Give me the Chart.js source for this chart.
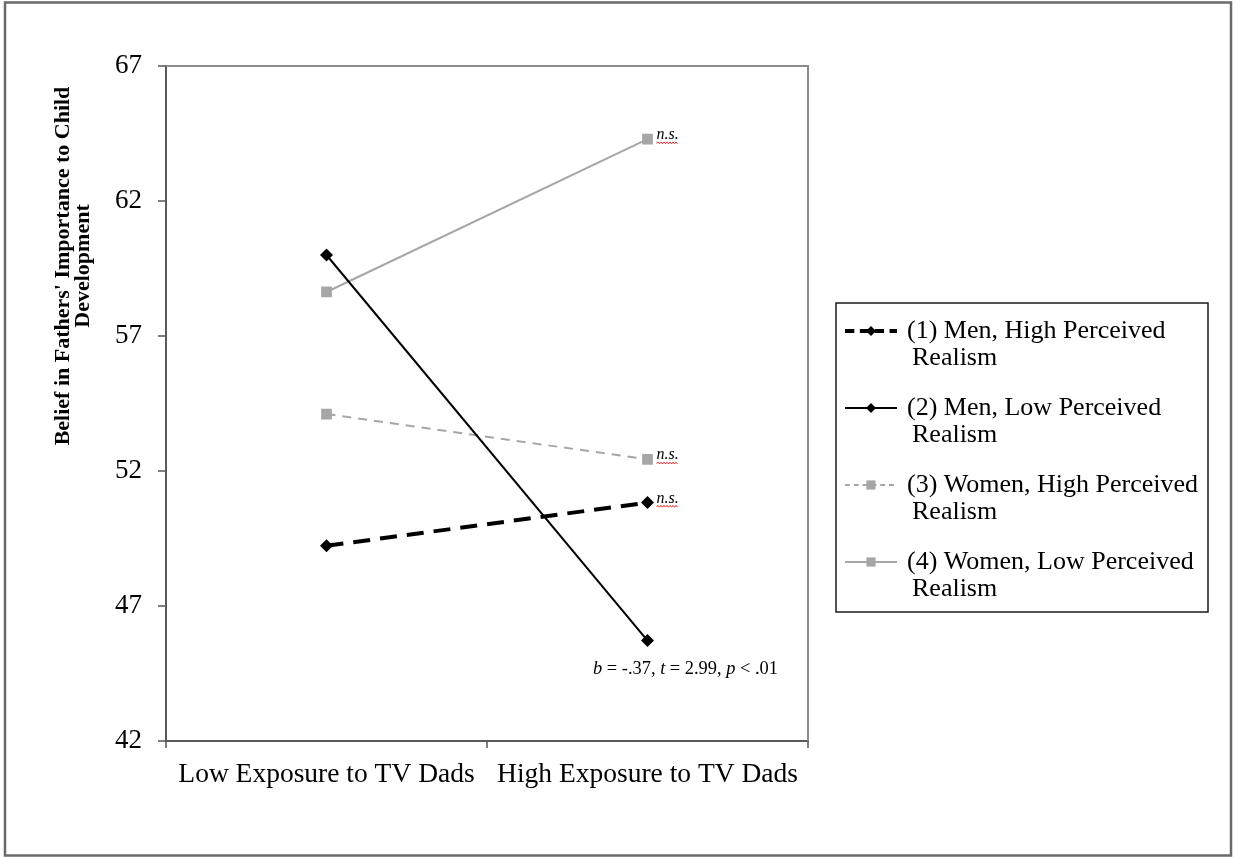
<!DOCTYPE html>
<html>
<head>
<meta charset="utf-8">
<script src="https://cdn.jsdelivr.net/npm/chart.js@4.4.1/dist/chart.umd.min.js"></script>
<style>
  html, body { margin: 0; padding: 0; background: #fff; }
  #wrap { position: relative; width: 1233px; height: 857px; }
  canvas { display: block; }
</style>
</head>
<body>
<div id="wrap"><canvas id="c" width="1233" height="857"></canvas></div>
<script>
// Exposure conditions on the category axis
const categories = ['Low Exposure to TV Dads', 'High Exposure to TV Dads'];

// Estimated belief scores per group
const menHighRealism = [49.23, 50.83];
const menLowRealism = [60.0, 45.72];
const womenHighRealism = [54.11, 52.43];
const womenLowRealism = [58.63, 64.29];

// Legend labels, each split over two lines
const seriesNames = [
  ['(1) Men, High Perceived', 'Realism'],
  ['(2) Men, Low Perceived', 'Realism'],
  ['(3) Women, High Perceived', 'Realism'],
  ['(4) Women, Low Perceived', 'Realism']
];

// Value axis range
const yMin = 42;
const yMax = 67;
const yStep = 5;

const yTitle = ["Belief in Fathers' Importance to Child", 'Development'];
const nsText = 'n.s.';
// Simple slope test for group (2): [text, italic?] parts
const slopeText = [['b', true], [' = -.37, ', false], ['t', true], [' = 2.99, ', false], ['p', true], [' < .01', false]];

const SERIF = '"Liberation Serif", "Times New Roman", Times, serif';
const BLACK = '#000000';
const GREY = '#a6a6a6';
const AXIS = '#7f7f7f';

const datasets = [
  { label: seriesNames[0].join(' '), data: menHighRealism, borderColor: BLACK, backgroundColor: BLACK,
    borderWidth: 4, borderDash: [17, 10], pointStyle: 'rectRot', pointRadius: 6.5, ns: true },
  { label: seriesNames[1].join(' '), data: menLowRealism, borderColor: BLACK, backgroundColor: BLACK,
    borderWidth: 2, borderDash: [], pointStyle: 'rectRot', pointRadius: 6.5, slope: true },
  { label: seriesNames[2].join(' '), data: womenHighRealism, borderColor: GREY, backgroundColor: GREY,
    borderWidth: 2, borderDash: [9, 7], pointStyle: 'rect', pointRadius: 7.6, ns: true },
  { label: seriesNames[3].join(' '), data: womenLowRealism, borderColor: GREY, backgroundColor: GREY,
    borderWidth: 2, borderDash: [], pointStyle: 'rect', pointRadius: 7.6, ns: true }
].map(d => Object.assign({ pointBorderWidth: 0, pointBorderColor: d.borderColor, pointBackgroundColor: d.backgroundColor, tension: 0, fill: false }, d));

function drawMarker(ctx, style, x, y, r, color) {
  ctx.save();
  ctx.fillStyle = color;
  ctx.beginPath();
  if (style === 'rectRot') {
    ctx.moveTo(x, y - r); ctx.lineTo(x + r, y); ctx.lineTo(x, y + r); ctx.lineTo(x - r, y);
  } else {
    const h = r * Math.SQRT1_2;
    ctx.rect(x - h, y - h, 2 * h, 2 * h);
  }
  ctx.closePath();
  ctx.fill();
  ctx.restore();
}

function squiggle(ctx, x0, x1, y) {
  ctx.save();
  ctx.strokeStyle = '#e02020';
  ctx.lineWidth = 1;
  ctx.beginPath();
  let up = true;
  ctx.moveTo(x0, y);
  for (let x = x0 + 1.5; x <= x1; x += 1.5) {
    ctx.lineTo(x, up ? y - 1.2 : y + 0.6);
    up = !up;
  }
  ctx.stroke();
  ctx.restore();
}

const decorations = {
  id: 'decorations',
  beforeDatasetsDraw(chart) {
    const { ctx, chartArea: a } = chart;
    ctx.save();
    // outer frame
    ctx.strokeStyle = '#6a6a6a';
    ctx.lineWidth = 2.5;
    ctx.strokeRect(5, 2.5, 1226, 853);
    // plot area top and right edges
    ctx.strokeStyle = '#8c8c8c';
    ctx.lineWidth = 2;
    ctx.beginPath();
    ctx.moveTo(a.left, a.top); ctx.lineTo(a.right, a.top); ctx.lineTo(a.right, a.bottom);
    ctx.stroke();
    // value axis title
    ctx.fillStyle = BLACK;
    ctx.font = 'bold 22px ' + SERIF;
    ctx.textAlign = 'center';
    ctx.textBaseline = 'middle';
    ctx.translate(73, 266);
    ctx.rotate(-Math.PI / 2);
    ctx.fillText(yTitle[0], 0, -10);
    ctx.fillText(yTitle[1], 0, 10);
    ctx.restore();
  },
  afterDatasetsDraw(chart) {
    const { ctx } = chart;
    ctx.save();
    chart.data.datasets.forEach((ds, i) => {
      const meta = chart.getDatasetMeta(i);
      const last = meta.data[meta.data.length - 1];
      if (ds.ns) {
        ctx.font = 'italic 16px ' + SERIF;
        ctx.fillStyle = BLACK;
        ctx.textAlign = 'left';
        ctx.textBaseline = 'alphabetic';
        const tx = last.x + 9, ty = last.y;
        ctx.fillText(nsText, tx, ty);
        squiggle(ctx, tx, tx + ctx.measureText(nsText).width, ty + 4);
      }
      if (ds.slope) {
        ctx.fillStyle = BLACK;
        ctx.textBaseline = 'alphabetic';
        ctx.textAlign = 'left';
        let total = 0;
        slopeText.forEach(([t, it]) => { ctx.font = (it ? 'italic ' : '') + '18.4px ' + SERIF; total += ctx.measureText(t).width; });
        let x = last.x + 38 - total / 2;
        const y = last.y + 33;
        slopeText.forEach(([t, it]) => {
          ctx.font = (it ? 'italic ' : '') + '18.4px ' + SERIF;
          ctx.fillText(t, x, y);
          x += ctx.measureText(t).width;
        });
      }
    });
    ctx.restore();
  },
  afterDraw(chart) {
    const { ctx } = chart;
    // legend box
    const bx = 836, by = 303, bw = 372, bh = 309;
    ctx.save();
    ctx.strokeStyle = '#1a1a1a';
    ctx.lineWidth = 1.5;
    ctx.strokeRect(bx, by, bw, bh);
    ctx.font = '26px ' + SERIF;
    ctx.textBaseline = 'middle';
    ctx.textAlign = 'left';
    chart.data.datasets.forEach((ds, i) => {
      const y = by + 28 + i * 77;
      ctx.strokeStyle = ds.borderColor;
      ctx.lineWidth = ds.borderWidth;
      ctx.setLineDash(ds.borderDash.length ? ds.borderDash.map(v => v * 0.55) : []);
      ctx.beginPath();
      ctx.moveTo(845, y); ctx.lineTo(897, y);
      ctx.stroke();
      ctx.setLineDash([]);
      drawMarker(ctx, ds.pointStyle, 871, y, ds.pointStyle === 'rectRot' ? 5 : 6.5, ds.backgroundColor);
      ctx.fillStyle = BLACK;
      ctx.fillText(seriesNames[i][0], 907, y);
      ctx.fillText(seriesNames[i][1], 912, y + 27);
    });
    ctx.restore();
  }
};

new Chart(document.getElementById('c'), {
  type: 'line',
  data: { labels: categories, datasets },
  options: {
    responsive: false,
    animation: false,
    layout: { padding: { left: 0, top: 66, right: 425, bottom: 0 } },
    plugins: { legend: { display: false }, tooltip: { enabled: false } },
    scales: {
      x: {
        offset: true,
        grid: { display: true, offset: true, drawOnChartArea: false, drawTicks: true, tickLength: 7, color: AXIS, lineWidth: 2 },
        border: { display: true, color: '#595959', width: 2 },
        ticks: { color: BLACK, font: { family: SERIF, size: 27.5 }, padding: 10, maxRotation: 0, autoSkip: false },
        afterFit(s) { s.height = 116; }
      },
      y: {
        min: yMin, max: yMax,
        grid: { display: true, drawOnChartArea: false, drawTicks: true, tickLength: 8, color: AXIS, lineWidth: 2 },
        border: { display: true, color: '#595959', width: 2 },
        ticks: { stepSize: yStep, color: BLACK, font: { family: SERIF, size: 27 }, padding: 16 },
        afterFit(s) { s.width = 166; }
      }
    }
  },
  plugins: [decorations]
});
</script>
</body>
</html>
